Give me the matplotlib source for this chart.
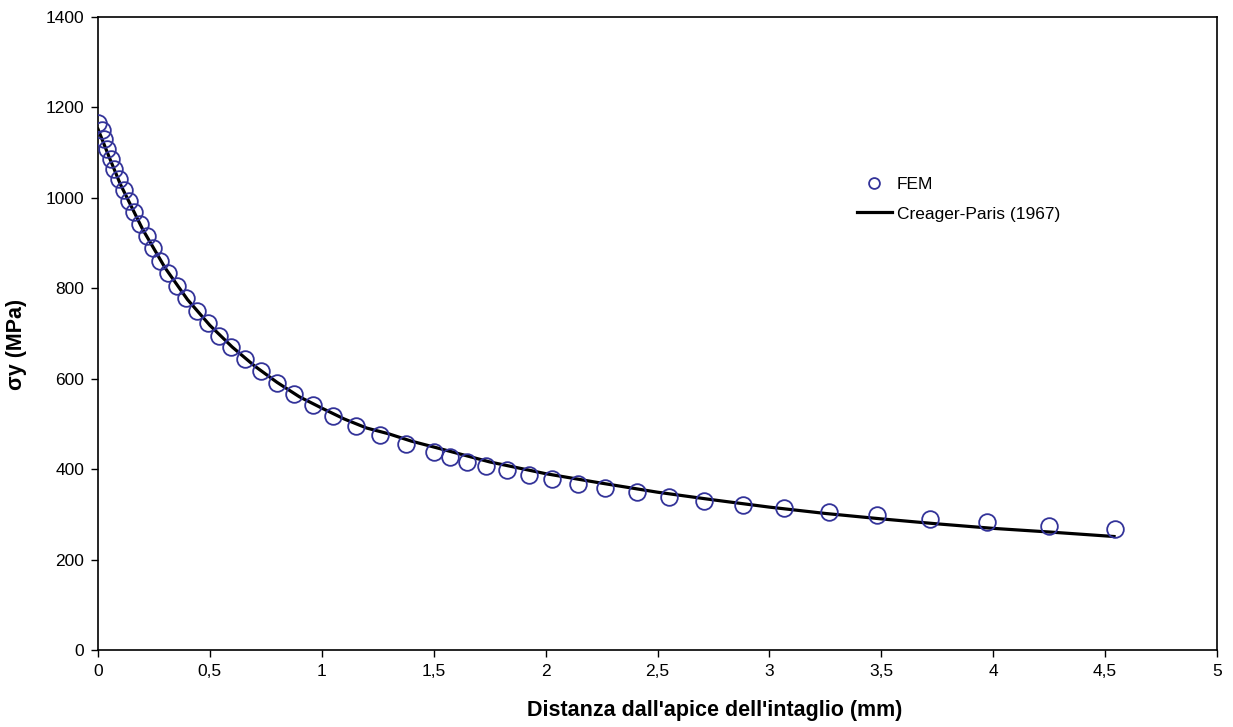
import matplotlib
matplotlib.use("Agg")
import matplotlib.pyplot as plt

plt.rcParams["font.family"] = ["Liberation Sans", "DejaVu Sans"]

# FEM results (distance from notch tip in mm, sigma_y in MPa)
fem_x = [0.001, 0.017, 0.028, 0.040, 0.057, 0.073, 0.095, 0.116, 0.139, 0.161,
         0.188, 0.218, 0.247, 0.277, 0.314, 0.352, 0.393, 0.441, 0.490, 0.542,
         0.593, 0.657, 0.727, 0.801, 0.877, 0.962, 1.051, 1.153, 1.260, 1.376,
         1.501, 1.573, 1.650, 1.734, 1.826, 1.924, 2.030, 2.146, 2.265, 2.407,
         2.553, 2.708, 2.881, 3.065, 3.266, 3.482, 3.718, 3.974, 4.248, 4.544]
fem_y = [1166, 1149, 1130, 1107, 1086, 1064, 1041, 1017, 993, 968,
         942, 916, 889, 861, 834, 806, 778, 750, 723, 695,
         671, 643, 617, 591, 566, 542, 518, 496, 476, 456,
         437, 426, 416, 407, 398, 387, 378, 367, 359, 350,
         339, 330, 321, 313, 305, 298, 289, 282, 275, 268]

# Creager-Paris (1967) curve
cp_x = [0.0, 0.05, 0.1, 0.2, 0.3, 0.4, 0.5, 0.6, 0.7, 0.8, 0.9, 1.0, 1.1, 1.2,
        1.3, 1.4, 1.5, 1.75, 2.0, 2.25, 2.5, 2.75, 3.0, 3.25, 3.5, 3.75, 4.0,
        4.25, 4.54]
cp_y = [1152, 1090, 1030, 930, 845, 775, 718, 670, 628, 592, 560, 535, 511, 491,
        478, 462, 449, 416, 390, 369, 349, 332, 316, 302, 290, 279, 269,
        261, 251]

x_ticks = [0, 0.5, 1, 1.5, 2, 2.5, 3, 3.5, 4, 4.5, 5]
x_ticklabels = ["0", "0,5", "1", "1,5", "2", "2,5", "3", "3,5", "4", "4,5", "5"]
y_ticks = list(range(0, 1401, 200))

fig = plt.figure(figsize=(12.33, 7.27), dpi=100)
ax = fig.add_axes([98 / 1233, 77 / 727, 1119 / 1233, 633 / 727])

ax.plot(fem_x, fem_y, "o", ms=12, mfc="none", mec="#333399", mew=1.3,
        label="FEM", zorder=3)
ax.plot(cp_x, cp_y, "-", color="black", lw=2.3, label="Creager-Paris (1967)",
        zorder=2)

ax.set_xlim(0, 5)
ax.set_ylim(0, 1400)
ax.set_xticks(x_ticks)
ax.set_xticklabels(x_ticklabels)
ax.set_yticks(y_ticks)
ax.tick_params(direction="out", length=5, width=1, labelsize=12.5, pad=5)
for s in ax.spines.values():
    s.set_linewidth(1.2)

ax.set_xlabel("Distanza dall'apice dell'intaglio (mm)", fontsize=15.5,
              fontweight="bold")
ax.set_ylabel("σy (MPa)", fontsize=15.5, fontweight="bold")
ax.xaxis.set_label_coords(0.551, -0.079)
ax.yaxis.set_label_coords(-0.0634, 0.482)

fig.legend(loc="center left", bbox_to_anchor=(857 / 1233, (727 - 199) / 727),
           frameon=False, fontsize=12.5, markerscale=0.65, handlelength=2.0,
           handletextpad=0.3, labelspacing=0.85, borderpad=0, borderaxespad=0)

fig.savefig("out.png", dpi=100)
